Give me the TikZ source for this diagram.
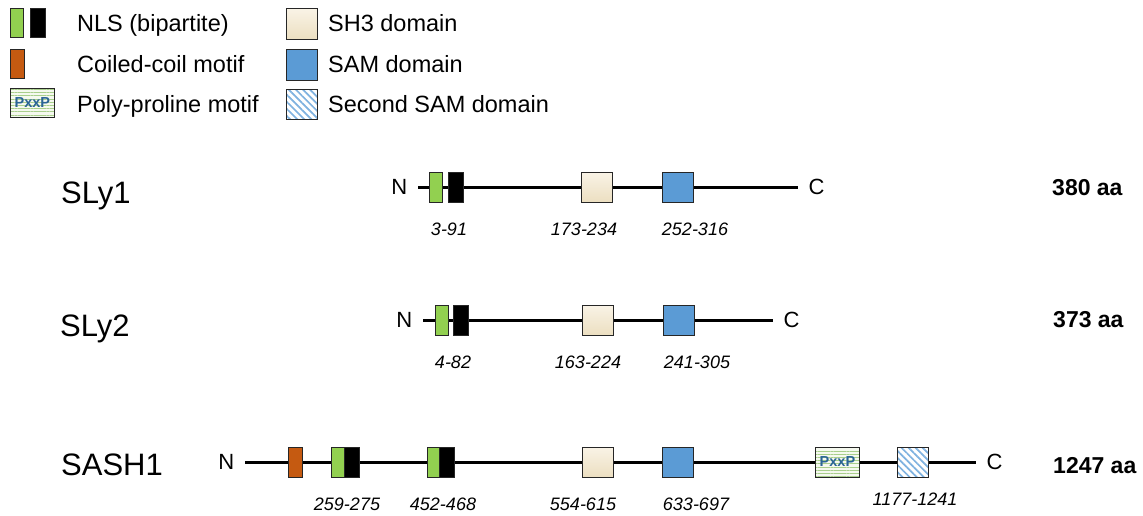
\documentclass[tikz,border=0pt]{standalone}
\usepackage{fontspec}
\setmainfont{Liberation Sans}
\usetikzlibrary{patterns.meta}
\definecolor{nlsgreen}{HTML}{92D050}
\definecolor{ccorange}{HTML}{C55A11}
\definecolor{samblue}{HTML}{5B9BD5}
\definecolor{sambluelt}{HTML}{7FB2E0}
\definecolor{shtop}{HTML}{F9F3E6}
\definecolor{shbot}{HTML}{ECDFC1}
\definecolor{pxbg}{HTML}{F5F9EF}
\definecolor{pxline}{HTML}{A9CF8C}
\definecolor{pxtext}{HTML}{2A6496}
\tikzset{
  dom/.style={draw=black!85, line width=0.9pt, inner sep=0pt, minimum height=30pt, anchor=west},
  nlsg/.style={dom, fill=nlsgreen, minimum width=13pt},
  nlsb/.style={dom, fill=black, minimum width=15pt},
  cc/.style={dom, fill=ccorange, minimum width=14pt},
  shdom/.style={dom, top color=shtop, bottom color=shbot, minimum width=31pt},
  samdom/.style={dom, fill=samblue, minimum width=31pt},
  samtwo/.style={dom, preaction={fill=white}, pattern={Lines[angle=-45,distance=5pt,line width=1.7pt]}, pattern color=sambluelt, minimum width=31pt},
  pxxp/.style={dom, preaction={fill=pxbg}, pattern={Lines[angle=0,distance=3.2pt,line width=0.7pt]}, pattern color=pxline, minimum width=44pt, text=pxtext, font=\fontsize{14.5}{14.5}\selectfont\bfseries},
  backbone/.style={line width=3pt},
  endlbl/.style={inner xsep=10.5pt, inner ysep=0pt, font=\fontsize{22}{22}\selectfont},
  rng/.style={anchor=base, inner sep=0pt, font=\fontsize{18}{18}\selectfont\itshape},
  prot/.style={anchor=base west, inner sep=0pt, font=\fontsize{31}{31}\selectfont},
  len/.style={anchor=base west, inner sep=0pt, font=\fontsize{23}{23}\selectfont\bfseries},
  legtxt/.style={anchor=base west, inner sep=0pt, font=\fontsize{23.5}{23.5}\selectfont}
}
\begin{document}
\begin{tikzpicture}[x=1pt,y=-1pt]
\useasboundingbox (0,0) rectangle (1143,515);

% legend
\node[nlsg, anchor=north west, minimum height=29pt] (lg) at (10,8) {};
\node[nlsb, anchor=north west, minimum height=29pt] (lb) at (30,8) {};
\node[cc, anchor=north west, minimum height=29pt] (lc) at (10,49) {};
\node[pxxp, anchor=north west, minimum height=29pt] (lp) at (10,88) {PxxP};
\node[legtxt] (tnls) at (77,31.5) {NLS (bipartite)};
\node[legtxt] (tcc) at (77,72.5) {Coiled-coil motif};
\node[legtxt] (tpp) at (77,112.5) {Poly-proline motif};
\node[shdom, anchor=north west, minimum height=31pt] (lsh) at (286,8) {};
\node[samdom, anchor=north west, minimum height=31pt] (lsam) at (286,49) {};
\node[samtwo, anchor=north west, minimum height=30pt] (lsam2) at (286,89) {};
\node[legtxt] (tsh) at (328,31.5) {SH3 domain};
\node[legtxt] (tsam) at (328,72.5) {SAM domain};
\node[legtxt] (tsam2) at (328,112.5) {Second SAM domain};

% SLy1
\node[prot] (p1) at (61,203) {SLy1};
\node[endlbl, anchor=east] (n1) at (418,187) {N};
\node[endlbl, anchor=west] (c1) at (798,187) {C};
\draw[backbone] (n1) -- (c1);
\node[nlsg] (g1) at (429,187) {};
\node[nlsb] (b1) at (448,187) {};
\node[shdom] (s1) at (581,187) {};
\node[samdom] (m1) at (662,187) {};
\node[rng] (r11) at (449,235) {3-91};
\node[rng] (r12) at (584,235) {173-234};
\node[rng] (r13) at (695,235) {252-316};
\node[len] (a1) at (1052,195) {380 aa};

% SLy2
\node[prot] (p2) at (60,336) {SLy2};
\node[endlbl, anchor=east] (n2) at (423,320) {N};
\node[endlbl, anchor=west] (c2) at (773,320) {C};
\draw[backbone] (n2) -- (c2);
\node[nlsg] (g2) at (435,320) {};
\node[nlsb] (b2) at (453,320) {};
\node[shdom] (s2) at (582,320) {};
\node[samdom] (m2) at (663,320) {};
\node[rng] (r21) at (453,368) {4-82};
\node[rng] (r22) at (588,368) {163-224};
\node[rng] (r23) at (697,368) {241-305};
\node[len] (a2) at (1053,327) {373 aa};

% SASH1
\node[prot] (p3) at (61,475) {SASH1};
\node[endlbl, anchor=east] (n3) at (245,462) {N};
\node[endlbl, anchor=west] (c3) at (976,462) {C};
\draw[backbone] (n3) -- (c3);
\node[cc] (o3) at (288,462) {};
\node[nlsg] (g3) at (331,462) {};
\node[nlsb] (b3) at (344,462) {};
\node[nlsg] (g4) at (427,462) {};
\node[nlsb] (b4) at (439,462) {};
\node[shdom] (s3) at (582,462) {};
\node[samdom] (m3) at (662,462) {};
\node[pxxp] (x3) at (815,462) {PxxP};
\node[samtwo] (t3) at (897,462) {};
\node[rng] (r31) at (347,510) {259-275};
\node[rng] (r32) at (443,510) {452-468};
\node[rng] (r33) at (583,510) {554-615};
\node[rng] (r34) at (696,510) {633-697};
\node[rng] (r35) at (915,505) {1177-1241};
\node[len] (a3) at (1053,473) {1247 aa};
\end{tikzpicture}
\end{document}
